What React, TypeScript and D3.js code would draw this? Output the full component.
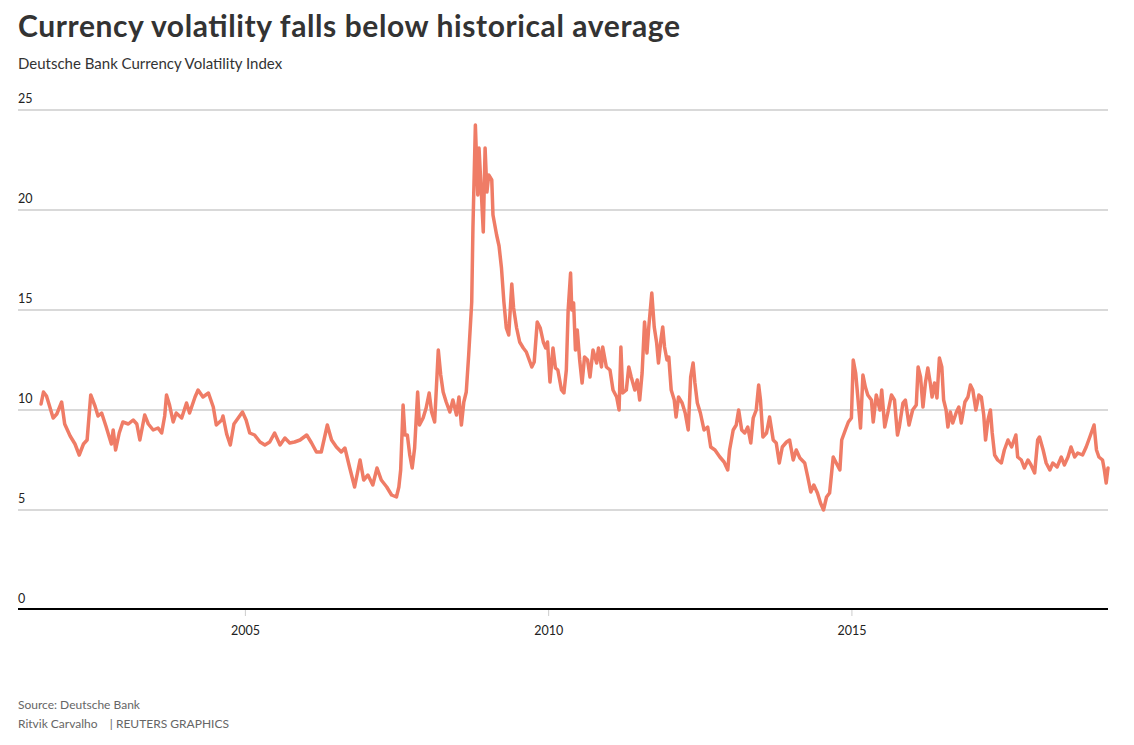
import { useEffect, useRef } from "react";
import * as d3 from "d3";

const W = 1134;
const H = 745;
const ML = 18;
const MR = 1108;
const Y0 = 610;
const Y25 = 110;

// decimal years
const years = [
  2001.64, 2001.68, 2001.73, 2001.84, 2001.9, 2001.98, 2002.03, 2002.12, 2002.2, 2002.27,
  2002.34, 2002.4, 2002.46, 2002.53, 2002.58, 2002.64, 2002.71, 2002.8, 2002.83, 2002.87,
  2002.93, 2002.99, 2003.08, 2003.16, 2003.22, 2003.27, 2003.35, 2003.41, 2003.49, 2003.57,
  2003.63, 2003.68, 2003.71, 2003.76, 2003.82, 2003.87, 2003.96, 2004.04, 2004.09, 2004.18,
  2004.23, 2004.31, 2004.4, 2004.48, 2004.53, 2004.62, 2004.64, 2004.7, 2004.76, 2004.82,
  2004.89, 2004.96, 2005.02, 2005.08, 2005.16, 2005.25, 2005.33, 2005.41, 2005.49, 2005.58,
  2005.66, 2005.74, 2005.82, 2005.91, 2006.02, 2006.1, 2006.18, 2006.26, 2006.36, 2006.43,
  2006.51, 2006.59, 2006.65, 2006.73, 2006.81, 2006.9, 2006.96, 2007.03, 2007.11, 2007.18,
  2007.25, 2007.34, 2007.42, 2007.5, 2007.54, 2007.57, 2007.61, 2007.64, 2007.68, 2007.72,
  2007.76, 2007.8, 2007.85, 2007.88, 2007.94, 2007.99, 2008.04, 2008.08, 2008.13, 2008.19,
  2008.23, 2008.27, 2008.32, 2008.38, 2008.43, 2008.49, 2008.53, 2008.57, 2008.61, 2008.65,
  2008.69, 2008.74, 2008.76, 2008.8, 2008.84, 2008.86, 2008.9, 2008.93, 2008.96, 2008.99,
  2009.02, 2009.07, 2009.09, 2009.15, 2009.19, 2009.23, 2009.27, 2009.31, 2009.35, 2009.4,
  2009.43, 2009.48, 2009.53, 2009.59, 2009.64, 2009.73, 2009.77, 2009.82, 2009.87, 2009.92,
  2009.96, 2009.99, 2010.03, 2010.08, 2010.12, 2010.16, 2010.22, 2010.26, 2010.3, 2010.33,
  2010.37, 2010.39, 2010.42, 2010.45, 2010.48, 2010.52, 2010.56, 2010.6, 2010.65, 2010.69,
  2010.74, 2010.8, 2010.83, 2010.88, 2010.9, 2010.96, 2011.02, 2011.07, 2011.13, 2011.17,
  2011.2, 2011.23, 2011.29, 2011.33, 2011.37, 2011.43, 2011.47, 2011.51, 2011.55, 2011.59,
  2011.63, 2011.66, 2011.71, 2011.75, 2011.79, 2011.82, 2011.86, 2011.89, 2011.92, 2011.96,
  2011.99, 2012.03, 2012.08, 2012.11, 2012.15, 2012.21, 2012.26, 2012.31, 2012.35, 2012.39,
  2012.42, 2012.46, 2012.51, 2012.57, 2012.63, 2012.68, 2012.75, 2012.83, 2012.9, 2012.96,
  2012.99, 2013.05, 2013.1, 2013.14, 2013.19, 2013.24, 2013.29, 2013.34, 2013.38, 2013.43,
  2013.47, 2013.5, 2013.54, 2013.6, 2013.65, 2013.71, 2013.76, 2013.81, 2013.86, 2013.93,
  2013.98, 2014.04, 2014.09, 2014.15, 2014.23, 2014.28, 2014.33, 2014.38, 2014.44, 2014.49,
  2014.54, 2014.59, 2014.64, 2014.7, 2014.75, 2014.81, 2014.84, 2014.9, 2014.95, 2015.0,
  2015.03, 2015.07, 2015.11, 2015.15, 2015.19, 2015.23, 2015.27, 2015.33, 2015.36, 2015.41,
  2015.47, 2015.5, 2015.55, 2015.6, 2015.66, 2015.71, 2015.76, 2015.79, 2015.85, 2015.89,
  2015.95, 2016.01, 2016.07, 2016.1, 2016.14, 2016.18, 2016.22, 2016.26, 2016.3, 2016.33,
  2016.37, 2016.41, 2016.45, 2016.49, 2016.52, 2016.56, 2016.59, 2016.63, 2016.67, 2016.73,
  2016.77, 2016.81, 2016.87, 2016.92, 2016.96, 2017.0, 2017.05, 2017.1, 2017.14, 2017.18,
  2017.21, 2017.25, 2017.29, 2017.32, 2017.36, 2017.41, 2017.47, 2017.52, 2017.58, 2017.64,
  2017.71, 2017.74, 2017.8, 2017.85, 2017.91, 2017.96, 2018.02, 2018.07, 2018.1, 2018.16,
  2018.21, 2018.27, 2018.32, 2018.39, 2018.46, 2018.51, 2018.57, 2018.62, 2018.68, 2018.73,
  2018.81, 2018.87, 2018.93, 2019.0, 2019.04, 2019.08, 2019.14, 2019.17, 2019.2, 2019.23,
];

const values = [
  10.3, 10.9, 10.7, 9.6, 9.8, 10.4, 9.3, 8.7, 8.3, 7.75,
  8.3, 8.5, 10.75, 10.2, 9.7, 9.85, 9.2, 8.3, 9.0, 8.0,
  8.85, 9.4, 9.3, 9.5, 9.3, 8.5, 9.75, 9.3, 9.0, 9.1,
  8.85, 9.7, 10.75, 10.25, 9.4, 9.85, 9.6, 10.35, 9.85, 10.65,
  11.0, 10.65, 10.85, 10.15, 9.25, 9.5, 9.7, 8.8, 8.25, 9.3,
  9.6, 9.9, 9.5, 8.85, 8.75, 8.4, 8.25, 8.4, 8.85, 8.25,
  8.6, 8.35, 8.4, 8.5, 8.75, 8.35, 7.9, 7.9, 9.25, 8.5,
  8.15, 7.9, 8.1, 7.1, 6.15, 7.5, 6.5, 6.75, 6.25, 7.1,
  6.5, 6.15, 5.75, 5.65, 6.15, 7.0, 10.25, 8.75, 8.75, 7.75,
  7.1, 8.1, 10.9, 9.25, 9.6, 10.1, 10.85, 9.9, 9.4, 13.0,
  11.75, 10.9, 10.4, 9.9, 10.5, 9.75, 10.65, 9.25, 10.4, 10.9,
  12.75, 15.4, 19.1, 24.25, 20.75, 23.1, 20.75, 18.9, 23.1, 20.9,
  21.75, 21.5, 19.75, 18.75, 18.2, 17.1, 15.4, 14.1, 13.75, 16.3,
  15.1, 14.1, 13.4, 13.1, 12.9, 12.15, 12.4, 14.4, 14.1, 13.4,
  13.1, 13.4, 11.4, 13.1, 12.1, 12.0, 11.0, 10.85, 12.0, 15.0,
  16.85, 15.0, 15.35, 13.0, 14.0, 12.5, 11.35, 12.65, 12.5, 11.65,
  13.0, 12.35, 13.1, 12.15, 13.15, 12.15, 12.0, 11.0, 10.65, 10.0,
  13.15, 10.85, 11.0, 12.15, 11.65, 11.0, 11.5, 10.5, 11.85, 14.4,
  12.85, 14.15, 15.85, 14.15, 13.35, 12.35, 13.5, 14.15, 13.15, 12.5,
  12.65, 11.0, 10.5, 9.65, 10.65, 10.35, 9.85, 9.0, 11.65, 12.35,
  11.35, 10.35, 9.85, 9.0, 9.15, 8.15, 8.0, 7.65, 7.4, 7.0,
  8.0, 9.0, 9.25, 10.0, 9.0, 8.85, 9.15, 8.35, 9.6, 10.0,
  11.25, 10.5, 8.65, 8.85, 9.65, 8.5, 8.35, 7.35, 8.15, 8.4,
  8.5, 7.5, 8.0, 7.6, 7.35, 6.65, 5.9, 6.25, 5.85, 5.35,
  5.0, 5.65, 5.85, 7.65, 7.35, 7.0, 8.5, 9.0, 9.4, 9.6,
  12.5, 11.85, 10.5, 9.1, 11.75, 11.15, 10.75, 10.5, 9.4, 10.75,
  10.0, 11.0, 9.15, 9.85, 10.75, 10.5, 8.75, 9.15, 10.35, 10.5,
  9.25, 10.0, 10.25, 12.15, 11.65, 10.15, 11.35, 12.1, 11.35, 10.65,
  11.35, 10.6, 12.6, 12.15, 10.5, 10.0, 9.15, 9.9, 9.35, 9.9,
  10.15, 9.35, 10.4, 10.65, 11.25, 11.0, 10.0, 10.75, 10.65, 9.75,
  8.5, 9.5, 10.0, 8.85, 7.75, 7.5, 7.35, 8.0, 8.5, 8.15,
  8.75, 7.65, 7.5, 7.1, 7.5, 7.25, 6.85, 8.5, 8.65, 8.0,
  7.35, 7.0, 7.35, 7.15, 7.65, 7.25, 7.65, 8.15, 7.65, 7.85,
  7.75, 8.15, 8.65, 9.25, 8.0, 7.65, 7.5, 7.0, 6.35, 7.1,
];

const yTicks = [0, 5, 10, 15, 20, 25];
const xTickYears = [2005, 2010, 2015];
const X_START = 2001.26;
const X_END = 2019.23;

const TITLE = "Currency volatility falls below historical average";
const SUBTITLE = "Deutsche Bank Currency Volatility Index";
const SOURCE = "Source: Deutsche Bank";
const CREDIT = "Ritvik Carvalho    | REUTERS GRAPHICS";

function toDate(y: number) {
  const yr = Math.floor(y);
  const start = new Date(yr, 0, 1).getTime();
  const end = new Date(yr + 1, 0, 1).getTime();
  return new Date(start + (y - yr) * (end - start));
}

const FONT = "Lato, 'Open Sans', sans-serif";

export default function App() {
  const axisRef = useRef<SVGGElement>(null);

  const x = d3.scaleTime().domain([toDate(X_START), toDate(X_END)]).range([ML, MR]);
  const y = d3.scaleLinear().domain([0, 25]).range([Y0, Y25]);

  const series = years.map((yr, i) => ({ date: toDate(yr), value: values[i] }));
  const line = d3
    .line<{ date: Date; value: number }>()
    .x((d) => x(d.date))
    .y((d) => y(d.value));

  useEffect(() => {
    document.body.style.margin = "0";
    if (!axisRef.current) return;
    const g = d3.select(axisRef.current);
    g.selectAll("*").remove();
    g.call(
      d3
        .axisBottom(x)
        .tickValues(xTickYears.map((t) => new Date(t, 0, 1)))
        .tickSize(6)
        .tickPadding(10)
        .tickFormat(d3.timeFormat("%Y") as any),
    )
      .call((g) => g.select(".domain").remove())
      .call((g) => g.selectAll(".tick line").attr("stroke", "#ccc").attr("stroke-width", 1))
      .call((g) =>
        g
          .selectAll(".tick text")
          .attr("fill", "#222")
          .attr("font-size", 12.5)
          .attr("font-family", FONT),
      );
  }, []);

  return (
    <svg width={W} height={H} style={{ display: "block", background: "#fff" }} fontFamily={FONT}>
      <text x={18} y={37} fontSize={30} fontWeight={700} fill="#333" textLength={662} lengthAdjust="spacing">
        {TITLE}
      </text>
      <text x={18} y={69} fontSize={15} fill="#333">
        {SUBTITLE}
      </text>

      <g>
        {yTicks.slice(1).map((t) => (
          <line key={t} x1={ML} x2={MR} y1={y(t)} y2={y(t)} stroke="#ccc" strokeWidth={1.5} />
        ))}
        {yTicks.map((t) => (
          <text key={`l${t}`} x={ML} y={y(t) - 7} fontSize={12.5} fill="#222">
            {t}
          </text>
        ))}
      </g>

      <path
        d={line(series) ?? ""}
        fill="none"
        stroke="#ef7c66"
        strokeWidth={3.5}
        strokeLinejoin="round"
        strokeLinecap="round"
      />

      <line x1={ML} x2={MR} y1={Y0 - 1} y2={Y0 - 1} stroke="#000" strokeWidth={2} />
      <g ref={axisRef} transform={`translate(0,${Y0})`} />

      <text x={18} y={709} fontSize={12} fill="#666">
        {SOURCE}
      </text>
      <text x={18} y={728} fontSize={12} fill="#666" style={{ whiteSpace: "pre" }}>
        {CREDIT}
      </text>
    </svg>
  );
}
